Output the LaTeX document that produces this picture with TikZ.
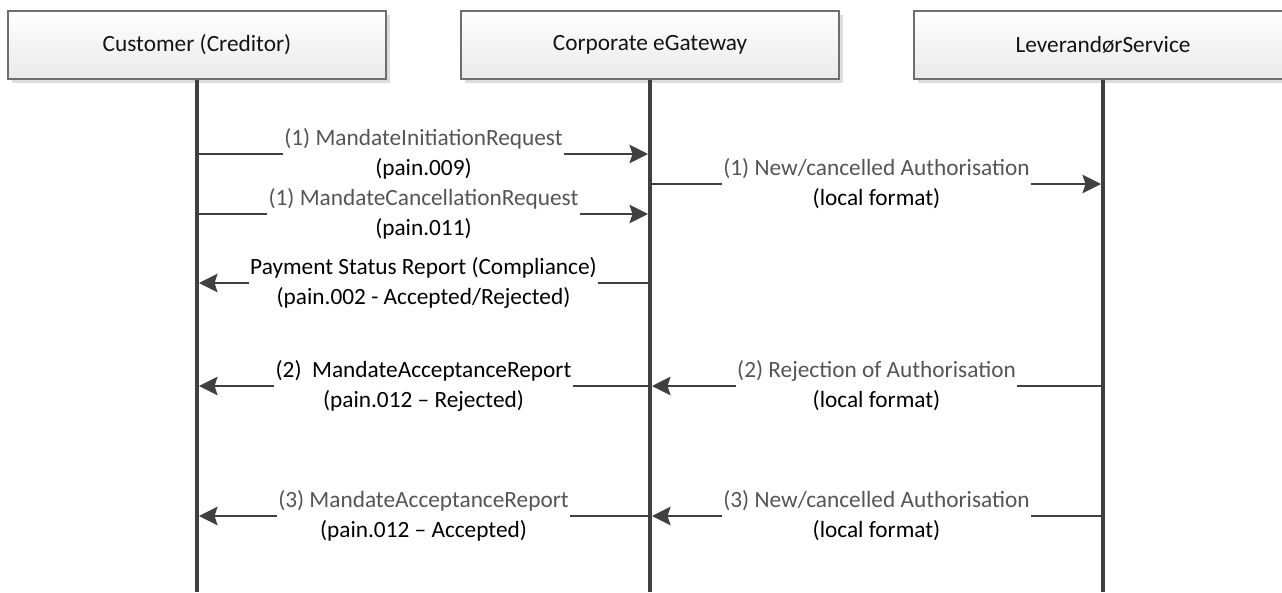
\documentclass[tikz,border=0pt]{standalone}
\usepackage{fontspec}
\setmainfont{Carlito}
\usetikzlibrary{arrows.meta,shadows}
\definecolor{ln}{HTML}{404040}
\definecolor{txtgray}{HTML}{555555}
\definecolor{boxborder}{HTML}{6E6E6E}
\definecolor{boxbot}{HTML}{EAEAEA}
\definecolor{shad}{HTML}{DDDDDD}
\begin{document}
\begin{tikzpicture}[x=1pt,y=-1pt,
  actor/.style={draw=boxborder,line width=1.3pt,top color=white,bottom color=boxbot,
    minimum width=378pt,minimum height=68pt,inner sep=0pt,
    font=\fontsize{23.3}{28}\selectfont,text=black!92,
    drop shadow={shadow xshift=4pt,shadow yshift=-4pt,fill=shad,opacity=1}},
  life/.style={draw=ln,line width=4pt},
  msg/.style={draw=ln,line width=2pt,shorten >=2pt,shorten <=2pt,
    -{Stealth[length=18.5pt,width=18.5pt,inset=3pt]}},
  lbl/.style={fill=white,inner xsep=1.5pt,inner ysep=0pt,align=center,
    font=\fontsize{23.3}{29}\selectfont,text=black,
    execute at begin node={\setlength{\baselineskip}{30pt}}}
]
\useasboundingbox (0,0) rectangle (1282,592);
\clip (0,0) rectangle (1282,592);

% actors
\node[actor] (cust) at (197,45) {Customer (Creditor)};
\node[actor] (gw)   at (650,45) {Corporate eGateway};
\node[actor] (lev)  at (1103,45) {LeverandørService};

% lifeline ends
\coordinate (custEnd) at (197,592);
\coordinate (gwEnd)   at (650,592);
\coordinate (levEnd)  at (1103,592);
\draw[life] (cust.south) -- (custEnd);
\draw[life] (gw.south) -- (gwEnd);
\draw[life] (lev.south) -- (levEnd);

% message points
\coordinate (c1) at (197,154); \coordinate (g1) at (650,154);
\coordinate (g1b) at (650,184); \coordinate (l1b) at (1103,184);
\coordinate (c2) at (197,214); \coordinate (g2) at (650,214);
\coordinate (c3) at (197,283); \coordinate (g3) at (650,283);
\coordinate (c4) at (197,386); \coordinate (g4) at (650,386); \coordinate (l4) at (1103,386);
\coordinate (c5) at (197,516); \coordinate (g5) at (650,516); \coordinate (l5) at (1103,516);

\draw[msg] (c1) -- (g1) node[lbl,midway] (m1) {{\color{txtgray}(1) MandateInitiationRequest}\\(pain.009)};
\draw[msg] (g1b) -- (l1b) node[lbl,midway] (m1b) {{\color{txtgray}(1) New/cancelled Authorisation}\\(local format)};
\draw[msg] (c2) -- (g2) node[lbl,midway] (m2) {{\color{txtgray}(1) MandateCancellationRequest}\\(pain.011)};
\draw[msg] (g3) -- (c3) node[lbl,midway] (m3) {Payment Status Report (Compliance)\\(pain.002 - Accepted/Rejected)};
\draw[msg] (l4) -- (g4) node[lbl,midway] (m4r) {{\color{txtgray}(2) Rejection of Authorisation}\\(local format)};
\draw[msg] (g4) -- (c4) node[lbl,midway] (m4l) {(2)~ MandateAcceptanceReport\\(pain.012 – Rejected)};
\draw[msg] (l5) -- (g5) node[lbl,midway] (m5r) {{\color{txtgray}(3) New/cancelled Authorisation}\\(local format)};
\draw[msg] (g5) -- (c5) node[lbl,midway] (m5l) {{\color{txtgray}(3) MandateAcceptanceReport}\\(pain.012 – Accepted)};
\end{tikzpicture}
\end{document}
